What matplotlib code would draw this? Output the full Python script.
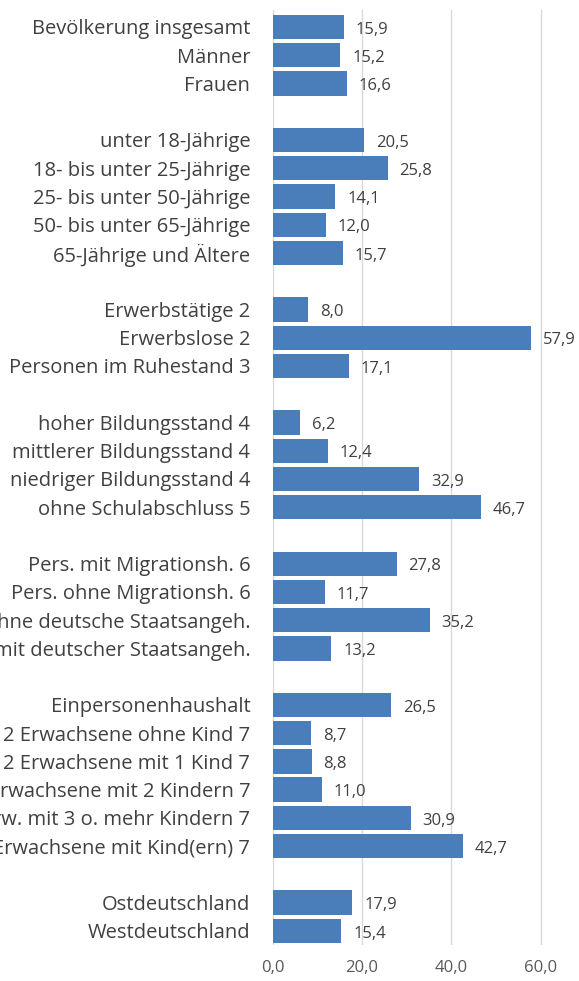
import matplotlib
matplotlib.use('Agg')
import matplotlib.pyplot as plt
import numpy as np

# ===== parameters =====
FONT_FAMILY = ['Open Sans', 'DejaVu Sans']
FONT_SIZE_LABEL = 14.5
FONT_SIZE_VALUE = 12
BAR_COLOR = '#4A7EBB'
TEXT_COLOR = '#404040'
TICK_COLOR = '#595959'
GRID_COLOR = '#D9D9D9'

plt.rcParams['font.family'] = FONT_FAMILY

# data (None = empty row between groups)
labels = [
    'Bevölkerung insgesamt', 'Männer', 'Frauen', None,
    'unter 18-Jährige', '18- bis unter 25-Jährige', '25- bis unter 50-Jährige',
    '50- bis unter 65-Jährige', '65-Jährige und Ältere', None,
    'Erwerbstätige 2', 'Erwerbslose 2', 'Personen im Ruhestand 3', None,
    'hoher Bildungsstand 4', 'mittlerer Bildungsstand 4', 'niedriger Bildungsstand 4',
    'ohne Schulabschluss 5', None,
    'Pers. mit Migrationsh. 6', 'Pers. ohne Migrationsh. 6',
    'ohne deutsche Staatsangeh.', 'mit deutscher Staatsangeh.', None,
    'Einpersonenhaushalt', '2 Erwachsene ohne Kind 7', '2 Erwachsene mit 1 Kind 7',
    '2 Erwachsene mit 2 Kindern 7', '2 Erw. mit 3 o. mehr Kindern 7',
    '1 Erwachsene mit Kind(ern) 7', None,
    'Ostdeutschland', 'Westdeutschland',
]
values = [
    15.9, 15.2, 16.6, None,
    20.5, 25.8, 14.1, 12.0, 15.7, None,
    8.0, 57.9, 17.1, None,
    6.2, 12.4, 32.9, 46.7, None,
    27.8, 11.7, 35.2, 13.2, None,
    26.5, 8.7, 8.8, 11.0, 30.9, 42.7, None,
    17.9, 15.4,
]
x_ticks = [0, 20, 40, 60]

W, H = 579, 981
fig = plt.figure(figsize=(W / 100, H / 100), dpi=100)
ax = fig.add_axes([272.5 / W, 36 / H, 1 - 272.5 / W, (945 - 10) / H])

pos = [i for i, v in enumerate(values) if v is not None]
vals = [values[i] for i in pos]
labs = [labels[i] for i in pos]

bars = ax.barh(pos, vals, height=0.86, color=BAR_COLOR, zorder=3)

for b, v in zip(bars, vals):
    ax.annotate(f'{v:.1f}'.replace('.', ','),
                xy=(b.get_width(), b.get_y() + b.get_height() / 2),
                xytext=(8.5, -2), textcoords='offset points',
                ha='left', va='center', fontsize=FONT_SIZE_VALUE, color=TEXT_COLOR)

ax.set_yticks(pos)
ax.set_yticklabels(labs, fontsize=FONT_SIZE_LABEL, color=TEXT_COLOR)
ax.set_ylim(32.5, -0.6)
ax.set_xlim(0, 68.6)
ax.set_xticks(x_ticks)
ax.set_xticklabels([f'{t:.1f}'.replace('.', ',') for t in x_ticks],
                   fontsize=FONT_SIZE_VALUE, color=TICK_COLOR)
ax.tick_params(axis='y', length=0, pad=16)
ax.tick_params(axis='x', length=0, pad=11)
ax.grid(axis='x', color=GRID_COLOR, linewidth=1, zorder=0)
for s in ax.spines.values():
    s.set_visible(False)

fig.savefig('out.png', dpi=100, facecolor='white')
